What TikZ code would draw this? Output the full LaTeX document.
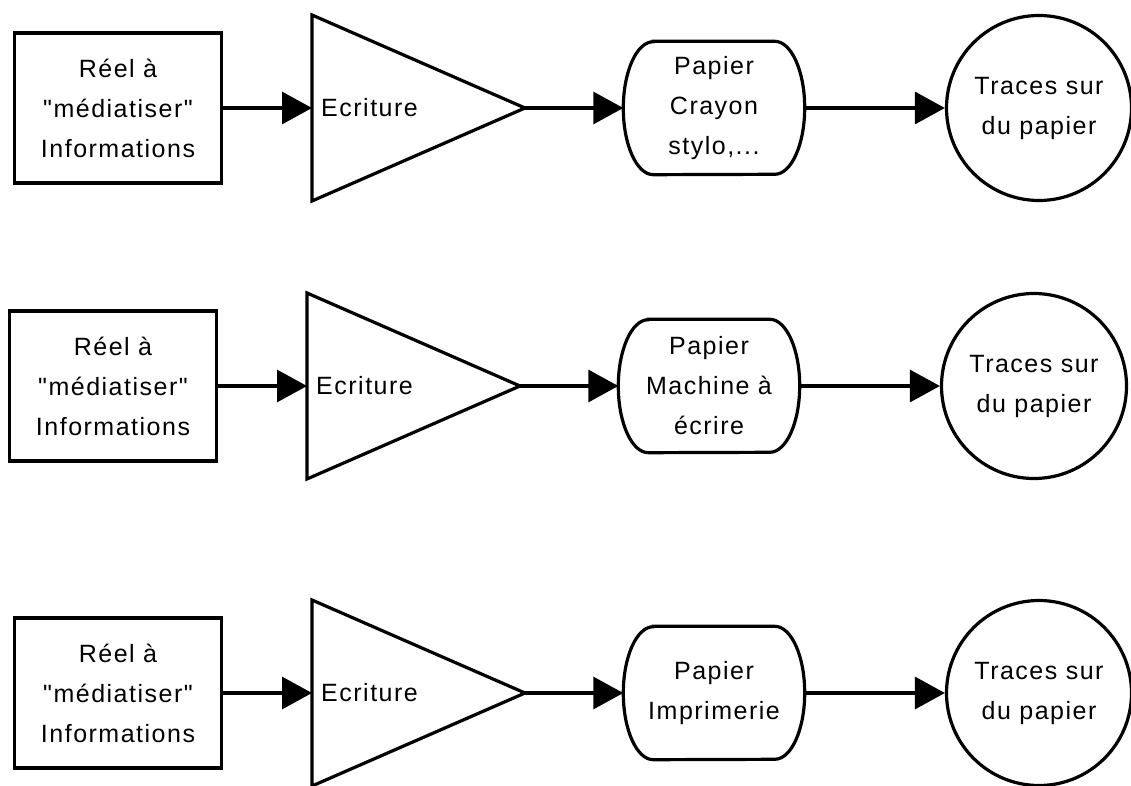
\documentclass[tikz,border=0pt]{standalone}
\usepackage{fontspec}
\setmainfont{Liberation Sans}[LetterSpace=6, Ligatures=TeXOff]
\usetikzlibrary{arrows.meta}
\tikzset{
  shapeline/.style={line width=3.2pt, line join=miter},
  lbl/.style={font=\fontsize{25}{40}\selectfont, align=center, inner sep=0pt},
  boxnode/.style={shapeline, draw, rectangle, minimum width=207pt, minimum height=150pt, lbl},
  pillbox/.style={rectangle, minimum width=181pt, minimum height=133pt, lbl},
  circ/.style={shapeline, draw, circle, minimum size=185pt, lbl},
  arr/.style={line width=3.2pt, -{Triangle[length=30pt,width=32pt]}},
}
\newcommand\drow[4]{%
  \begin{scope}[xshift=#2pt]
    \node[boxnode] (b#1) at (118,#3) {Réel à\\"médiatiser"\\Informations};
    \draw[shapeline] (312,#3+93) -- (525,#3) -- (312,#3-93) -- cycle;
    \coordinate (tw#1) at (312,#3);
    \coordinate (te#1) at (525,#3);
    \node[lbl, anchor=west] (e#1) at (321,#3) {Ecriture};
    \node[pillbox] (p#1) at (714,#3) {#4};
    \draw[shapeline] ([xshift=30pt]p#1.north west) -- ([xshift=-30pt]p#1.north east)
      arc[start angle=90, end angle=-90, x radius=30pt, y radius=66.5pt]
      -- ([xshift=30pt]p#1.south west)
      arc[start angle=270, end angle=90, x radius=30pt, y radius=66.5pt] -- cycle;
    \node[circ] (c#1) at (1039,#3) {Traces sur\\du papier};
    \draw[arr] (b#1.east) -- (tw#1);
    \draw[arr] (te#1) -- (p#1.west);
    \draw[arr] (p#1.east) -- (c#1.west);
  \end{scope}%
}
\begin{document}
\begin{tikzpicture}[x=1pt,y=1pt]
  \useasboundingbox (0,0) rectangle (1131,785);
  \drow{1}{0}{677}{Papier\\Crayon\\stylo,...}
  \drow{2}{-5}{399}{Papier\\Machine à\\écrire}
  \drow{3}{0}{92}{Papier\\Imprimerie}
\end{tikzpicture}
\end{document}
